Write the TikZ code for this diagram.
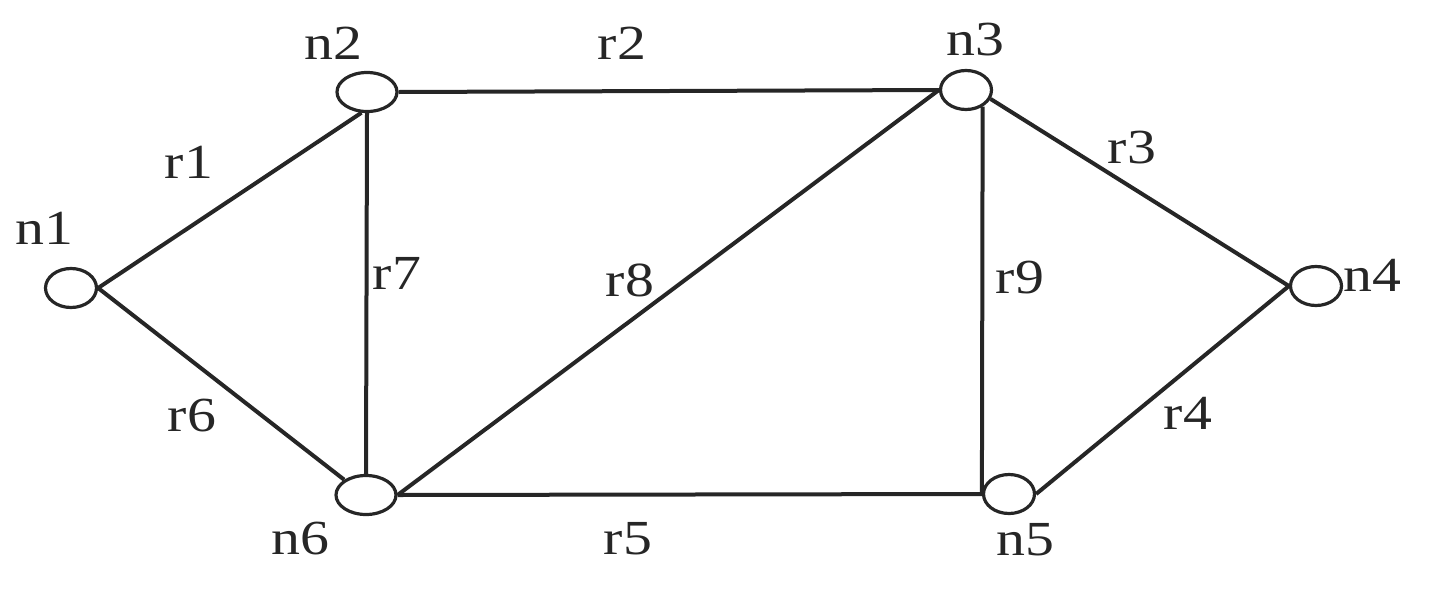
\documentclass[tikz,border=0pt]{standalone}
\usepackage{fontspec}
\usepackage{graphicx}
\setmainfont{Liberation Serif}
\usetikzlibrary{shapes.geometric}
\definecolor{ink}{HTML}{262626}
\tikzset{
  vtx/.style={draw=ink, ellipse, line width=3.2pt, inner sep=0pt, minimum width=51pt, minimum height=39pt},
  wide/.style={minimum width=60pt},
  edge/.style={draw=ink, line width=4pt},
  lbl/.style={text=ink, inner sep=0pt, font=\fontsize{49pt}{51pt}\selectfont},
}
\newcommand{\stx}[1]{\scalebox{1.18}[1]{#1}}
\begin{document}
\begin{tikzpicture}[x=1pt, y=-1pt]
\useasboundingbox (0,0) rectangle (1431,592);
\begin{scope}
\clip (0,0) rectangle (1431,557);
% vertices
\node[vtx] (n1) at (71,288) {};
\node[vtx, wide] (n2) at (367,92) {};
\node[vtx] (n3) at (966,90) {};
\node[vtx] (n4) at (1316,286) {};
\node[vtx] (n5) at (1009,494) {};
\node[vtx, wide] (n6) at (366,495) {};
% connectors
\draw[edge] (n1.east) -- (n2.255);
\draw[edge] (n2.east) -- (n3.west);
\draw[edge] (n3.-20) -- (n4.west);
\draw[edge] (n4.west) -- (n5.east);
\draw[edge] (n6.east) -- (n5.west);
\draw[edge] (n1.east) -- (n6.145);
\draw[edge] (n2.south) -- (n6.north);
\draw[edge] (n6.east) -- (n3.west);
\draw[edge] (n3.-45) -- (n5.west);
% vertex labels
\node[lbl] (t1) at (44,228) {\stx{n1}};
\node[lbl] (t2) at (333,43) {\stx{n2}};
\node[lbl] (t3) at (975,40) {\stx{n3}};
\node[lbl] (t4) at (1372,275) {\stx{n4}};
\node[lbl] (t5) at (1025,540) {\stx{n5}};
\node[lbl] (t6) at (300,539) {\stx{n6}};
% connector labels
\node[lbl] (l1) at (189,162) {\stx{r1}};
\node[lbl] (l2) at (622,43) {\stx{r2}};
\node[lbl] (l3) at (1132,148) {\stx{r3}};
\node[lbl] (l4) at (1188,413) {\stx{r4}};
\node[lbl] (l5) at (628,539) {\stx{r5}};
\node[lbl] (l6) at (192,416) {\stx{r6}};
\node[lbl] (l7) at (397,273) {\stx{r7}};
\node[lbl] (l8) at (630,280) {\stx{r8}};
\node[lbl] (l9) at (1020,278) {\stx{r9}};
\end{scope}
\end{tikzpicture}
\end{document}
